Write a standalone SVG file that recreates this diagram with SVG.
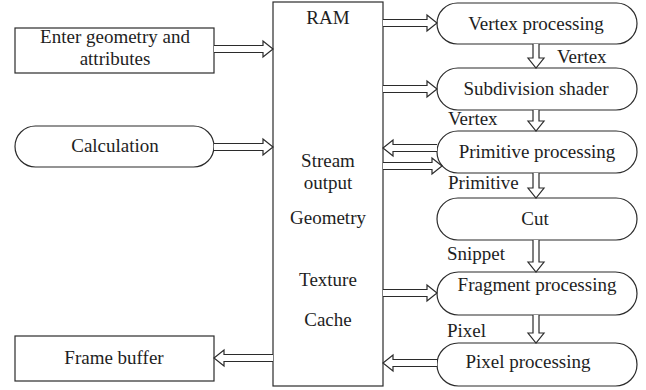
<svg xmlns="http://www.w3.org/2000/svg" width="646" height="390" viewBox="0 0 646 390" font-family="'Liberation Serif', 'DejaVu Serif', serif">
  <style>
    .box { fill: #fff; stroke: #2b2b2b; stroke-width: 1.2; }
    .arrow { fill: #fff; stroke: #2b2b2b; stroke-width: 1.2; stroke-linejoin: miter; }
    text { font-family: 'Liberation Serif', 'DejaVu Serif', serif; font-size: 19px; fill: #1e1e1e; }
    .c { text-anchor: middle; }
  </style>
  <rect x="0" y="0" width="646" height="390" fill="#fff"/>

  <g id="enter-geometry">
    <rect class="box" x="15" y="28" width="199" height="45"/>
    <text class="c" x="115" y="43">Enter geometry and</text>
    <text class="c" x="115" y="65">attributes</text>
  </g>
  <g id="calculation">
    <rect class="box" x="15" y="126" width="199" height="41" rx="20.5"/>
    <text class="c" x="115" y="152">Calculation</text>
  </g>
  <g id="frame-buffer">
    <rect class="box" x="15" y="336" width="199" height="45"/>
    <text class="c" x="114" y="364">Frame buffer</text>
  </g>

  <g id="ram">
    <rect class="box" x="273" y="2" width="110" height="384"/>
    <text class="c" x="328" y="24">RAM</text>
    <text class="c" x="328" y="167">Stream</text>
    <text class="c" x="328" y="189">output</text>
    <text class="c" x="328" y="224">Geometry</text>
    <text class="c" x="328" y="286">Texture</text>
    <text class="c" x="328" y="326">Cache</text>
  </g>

  <g id="vertex-processing">
    <rect class="box" x="437" y="3" width="200" height="41" rx="20.5"/>
    <text class="c" x="536" y="30">Vertex processing</text>
  </g>
  <g id="subdivision-shader">
    <rect class="box" x="437" y="68" width="200" height="42" rx="21"/>
    <text class="c" x="536" y="95">Subdivision shader</text>
  </g>
  <g id="primitive-processing">
    <rect class="box" x="437" y="131" width="200" height="42" rx="21"/>
    <text class="c" x="537" y="158">Primitive processing</text>
  </g>
  <g id="cut">
    <rect class="box" x="437" y="198" width="200" height="42" rx="21"/>
    <text class="c" x="535" y="225">Cut</text>
  </g>
  <g id="fragment-processing">
    <rect class="box" x="437" y="272" width="200" height="43" rx="21.5"/>
    <text class="c" x="537" y="291">Fragment processing</text>
  </g>
  <g id="pixel-processing">
    <rect class="box" x="437" y="343" width="200" height="43" rx="21.5"/>
    <text class="c" x="528" y="368">Pixel processing</text>
  </g>

  <g id="connectors">
    <!-- inputs into RAM -->
    <path class="arrow" d="M214 45.5 H263 V41 L273 49 L263 57 V52.5 H214"/>
    <path class="arrow" d="M214 143.5 H263 V139 L273 147 L263 155 V150.5 H214"/>
    <!-- RAM out to Frame buffer -->
    <path class="arrow" d="M273 354.5 H224 V350 L214 358 L224 366 V361.5 H273"/>
    <!-- RAM to pipeline stages -->
    <path class="arrow" d="M383 19.5 H427 V15 L437 23 L427 31 V26.5 H383"/>
    <path class="arrow" d="M383 85.5 H427 V81 L437 89 L427 97 V92.5 H383"/>
    <path class="arrow" d="M437 144.5 H393 V140 L383 148 L393 156 V151.5 H437"/>
    <path class="arrow" d="M383 162.5 H432 V158 L442 166 L432 174 V169.5 H383"/>
    <path class="arrow" d="M383 289.5 H427 V285 L437 293 L427 301 V296.5 H383"/>
    <path class="arrow" d="M437 359.5 H393 V355 L383 363 L393 371 V366.5 H437"/>
    <!-- pipeline flow -->
    <path class="arrow" d="M533 44 V58 H528 L536 68 L544 58 H539 V44"/>
    <path class="arrow" d="M533 110 V121 H528 L536 131 L544 121 H539 V110"/>
    <path class="arrow" d="M533 173 V188 H528 L536 198 L544 188 H539 V173"/>
    <path class="arrow" d="M533 240 V262 H528 L536 272 L544 262 H539 V240"/>
    <path class="arrow" d="M533 315 V333 H528 L536 343 L544 333 H539 V315"/>
    <!-- flow labels -->
    <text x="557" y="63">Vertex</text>
    <text x="448" y="125">Vertex</text>
    <text x="448" y="189">Primitive</text>
    <text x="447" y="260">Snippet</text>
    <text x="447" y="337">Pixel</text>
  </g>
</svg>
